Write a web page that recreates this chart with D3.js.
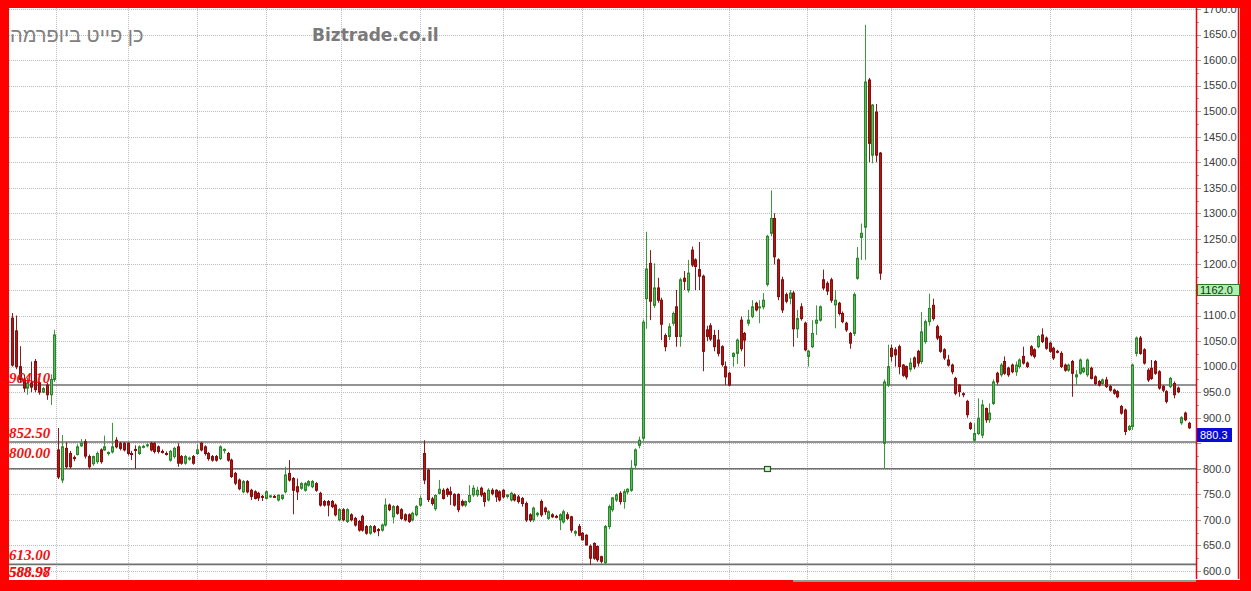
<!DOCTYPE html>
<html><head><meta charset="utf-8">
<script src="https://cdn.jsdelivr.net/npm/d3@7"></script>
<style>html,body{margin:0;padding:0;background:#fff;overflow:hidden}</style>
</head><body><svg id="c" width="1251" height="591"></svg>
<script>
// ---- data (daily OHLC) ----
const open = [1095,1070,1000,975,958,968,1010,968,950,964,945,975,
837,778,840,830,822,828,845,853,824,810,
814,837,837,830,833,856,850,850,850,830,
838,830,843,846,850,850,843,834,830,817,
824,843,824,811,820,824,830,850,843,830,
824,824,820,837,830,817,791,778,755,775,
758,755,752,746,742,746,746,739,742,755,
791,781,765,762,758,768,765,771,752,736,
736,736,729,700,720,697,710,703,697,707,
687,674,687,681,680,690,729,706,726,720,
710,710,700,710,729,830,797,741,722,752,
758,760,755,750,750,736,729,736,749,749,
762,752,739,758,758,755,758,746,739,749,
745,742,732,710,700,710,736,723,703,710,
707,700,696,710,706,674,687,674,670,648,
654,648,628,616,687,720,739,752,736,755,
758,807,846,
860,1133,1202,1120,1154,1130,1061,1059,1085,1117,
1059,1173,1150,1228,1209,1190,1177,1072,1080,1061,
1052,1039,1000,987,1020,1026,1091,1065,1085,1098,
1124,1115,1117,1161,1261,1290,1209,1170,1141,1134,
1144,1074,1117,1085,1020,1039,1085,1091,1170,1163,
1170,1121,1124,1104,1085,1065,1065,1173,1253,1273,
1561,1414,1498,1418,850,964,1036,1033,1039,1003,
1000,995,1017,1030,1010,1049,1088,1120,1078,1059,
1033,1013,1003,977,964,947,932,889,856,869,
866,918,896,928,987,984,1010,997,1003,990,
1000,1020,1007,1039,1033,1039,1062,1056,1046,1036,
1030,1026,1003,993,1010,980,987,990,984,997,
980,971,967,974,961,954,951,922,915,877,
883,1026,1056,1033,993,997,1010,990,961,951,
961,967,958,890,909,889];
const high = [1105,1100,1040,985,978,1010,1015,972,960,968,985,1072,
880,866,852,835,826,848,858,858,828,826,
834,840,865,834,890,862,853,852,852,835,
846,846,847,850,853,852,846,838,834,837,
843,850,827,827,824,827,848,853,846,833,
827,827,846,840,833,820,794,781,778,778,
761,758,755,749,758,749,749,750,750,804,
817,784,781,774,774,778,778,774,755,739,
739,739,732,723,723,723,713,706,700,710,
690,690,690,684,693,742,732,729,729,723,
713,713,716,729,748,856,800,745,750,778,
762,763,765,752,752,740,738,768,768,765,
765,755,762,762,760,758,760,750,755,752,
749,745,736,713,726,716,740,726,719,713,
710,713,720,715,708,680,692,676,672,652,
656,650,630,690,730,745,752,756,760,762,
817,840,863,
1092,1264,1228,1202,1174,1135,1065,1085,1108,1150,
1174,1187,1209,1235,1212,1244,1180,1080,1085,1072,
1072,1042,1010,990,1028,1055,1098,1068,1111,1130,
1127,1130,1144,1258,1345,1300,1212,1176,1145,1150,
1148,1111,1124,1088,1033,1091,1120,1120,1190,1167,
1174,1150,1127,1108,1088,1068,1145,1234,1280,1669,
1565,1514,1514,1420,975,1043,1043,1038,1043,1005,
1002,1017,1020,1033,1107,1092,1143,1133,1082,1062,
1036,1023,1006,980,966,950,935,892,889,938,
935,920,928,975,990,1007,1020,1000,1006,1010,
1016,1039,1010,1042,1036,1062,1075,1059,1049,1039,
1033,1030,1006,1006,1013,993,1016,1000,1016,1000,
983,974,977,980,964,957,954,925,918,886,
1006,1059,1060,1036,997,1013,1013,993,964,954,
980,971,961,903,912,892];
const low = [1000,995,968,950,945,950,950,945,948,935,925,970,
780,772,800,800,815,826,843,820,800,806,
810,810,835,826,830,840,836,834,826,817,
800,827,840,842,834,830,830,830,826,814,
820,804,808,808,816,808,827,834,826,816,
814,814,817,830,814,782,768,758,752,752,
739,740,737,737,740,743,743,736,739,752,
775,711,739,759,755,765,762,755,726,726,
707,723,707,697,697,694,697,687,677,677,
671,671,674,668,677,687,717,693,710,700,
697,694,697,707,726,770,735,728,718,750,
740,745,729,726,715,726,725,733,745,745,
745,726,736,748,735,736,742,742,736,736,
732,726,696,696,696,706,706,710,700,704,
703,680,693,700,675,668,668,660,650,612,
622,618,615,613,682,716,735,730,722,750,
755,800,840,
855,1074,1091,1115,1125,1052,1030,1052,1080,1039,
1039,1150,1145,1195,1150,1150,991,1050,1050,1030,
1020,1000,964,962,1000,1005,1030,1000,1080,1095,
1108,1085,1112,1157,1255,1200,1130,1105,1124,1122,
1039,1056,1090,1030,1000,1036,1062,1088,1150,1140,
1125,1075,1100,1085,1068,1035,1060,1170,1209,1209,
1400,1398,1400,1170,800,960,1010,1000,985,980,
975,990,995,1000,1005,1045,1080,1090,1052,1027,
1013,1000,985,944,941,940,900,876,852,866,
860,890,890,925,965,980,984,980,987,982,
996,1004,997,1020,1016,1036,1046,1033,1027,1013,
1026,997,990,990,941,964,984,987,980,975,
964,961,964,958,951,945,938,906,866,874,
876,1020,1023,1004,970,974,984,955,950,928,
958,938,948,886,893,878];
const close = [1003,1000,975,958,968,960,955,950,957,945,975,1062,
784,843,804,804,820,843,850,825,804,824,
830,814,843,832,843,843,840,837,830,828,
836,843,844,847,837,834,834,833,829,834,
840,811,811,824,821,811,837,837,830,820,
817,817,843,838,817,785,772,761,775,755,
746,742,743,745,755,747,745,748,748,788,
778,758,755,771,771,775,775,758,729,729,
729,726,710,720,700,720,700,690,680,680,
674,687,677,679,690,729,720,726,713,703,
700,697,713,726,742,778,740,732,748,760,
742,750,750,729,720,729,736,748,762,758,
749,736,758,752,745,739,745,749,752,739,
736,732,700,700,723,713,710,716,716,706,
706,710,716,703,680,677,670,661,651,625,
625,622,619,687,726,743,749,736,755,760,
801,837,856,
1087,1191,1128,1154,1130,1083,1039,1078,1104,1059,
1170,1167,1183,1199,1196,1177,1030,1059,1054,1039,
1026,1004,980,964,1026,1052,1035,1052,1091,1117,
1111,1117,1130,1255,1290,1215,1137,1111,1128,1144,
1074,1094,1094,1033,1030,1065,1091,1117,1154,1148,
1130,1130,1104,1088,1072,1046,1141,1212,1261,1557,
1437,1512,1414,1183,970,1000,1020,1023,1000,983,
980,1007,1000,1007,1068,1088,1114,1094,1056,1030,
1017,1003,990,948,951,945,906,879,869,899,
925,896,909,970,970,1003,987,984,990,1003,
1013,1007,1000,1023,1020,1059,1049,1036,1030,1017,
1029,1000,993,1003,987,984,1013,997,1013,977,
967,964,974,961,954,948,941,909,873,883,
1003,1056,1026,1007,974,977,987,958,954,932,
977,945,951,900,896,880.3];

const yTickValues = d3.range(600, 1701, 50);
const yMinorValues = d3.range(625, 1700, 50);
const monthBreaks = [11.5, 30, 48, 66, 85.5, 106, 128, 149, 165, 188, 208.5, 231, 253, 273, 294.5];
const levelValues = [964.1, 852.5, 800, 613];
const levelLabelValues = [964.1, 852.5, 800, 613, 588.98, 588.97];
const levelLabelTexts = ["964.10", "852.50", "800.00", "613.00", "588.98", "588.97"];
const levelLabelDy = [-2, -4, -11, -4, 0, 0];
const markerPoints = [{i: 198, v: 800}];
const lastValue = 880.3;
const indicatorValue = 1162.0;
const titleText = "כן פייט ביופרמה";
const brandText = "Biztrade.co.il";

// ---- drawing ----
const svg = d3.select('#c');
const L = 9, R = 1196, T = 8, B = 579;
const x = d3.scaleLinear().domain([0, 107, open.length - 1]).range([12, 424, 1189]);
const y = d3.scaleLinear().domain([600, 1700]).range([571, 9]);
const px = v => Math.round(v) + 0.5;

svg.append('rect').attr('width', 1251).attr('height', 591).attr('fill', '#fff');

const defs = svg.append('defs');
defs.append('clipPath').attr('id', 'plotClip').append('rect')
  .attr('x', L).attr('y', T).attr('width', R - L).attr('height', B - T);

const plot = svg.append('g').attr('clip-path', 'url(#plotClip)');

// grid
plot.append('g').selectAll('line').data(yTickValues).join('line')
  .attr('x1', L).attr('x2', R).attr('y1', d => px(y(d))).attr('y2', d => px(y(d)))
  .attr('stroke', '#bdbdbd').attr('stroke-width', 1).attr('stroke-dasharray', '1,1');
plot.append('g').selectAll('line').data(monthBreaks).join('line')
  .attr('x1', d => px(x(d))).attr('x2', d => px(x(d))).attr('y1', T).attr('y2', B)
  .attr('stroke', '#bdbdbd').attr('stroke-width', 1).attr('stroke-dasharray', '1,1');

// level lines
plot.append('g').selectAll('line').data(levelValues).join('line')
  .attr('x1', L).attr('x2', R).attr('y1', d => y(d)).attr('y2', d => y(d))
  .attr('stroke', '#6f6f6f').attr('stroke-width', 1.6);

// candles
const data = open.map((o, i) => ({i, o, h: high[i], l: low[i], c: close[i]}));
const up = d => d.c >= d.o;
const cg = plot.append('g');
cg.selectAll('line').data(data).join('line')
  .attr('x1', d => px(x(d.i))).attr('x2', d => px(x(d.i)))
  .attr('y1', d => y(d.h)).attr('y2', d => y(d.l))
  .attr('stroke', d => up(d) ? '#3c9a3c' : '#8e1b1b').attr('stroke-width', 1);
cg.selectAll('rect').data(data).join('rect')
  .attr('x', d => px(x(d.i)) - 1).attr('width', 2)
  .attr('y', d => y(Math.max(d.o, d.c)))
  .attr('height', d => Math.max(1, Math.abs(y(d.o) - y(d.c))))
  .attr('fill', d => up(d) ? '#5dbb5d' : '#b01818')
  .attr('stroke', d => up(d) ? '#2a862a' : '#8a0c0c').attr('stroke-width', 1);

// marker
plot.append('g').selectAll('rect').data(markerPoints).join('rect')
  .attr('x', d => px(x(d.i)) - 3).attr('y', d => Math.round(y(d.v)) - 2.5)
  .attr('width', 6).attr('height', 5)
  .attr('fill', '#d6f2d6').attr('stroke', '#1f5f1f').attr('stroke-width', 1.2);

// left level labels
svg.append('g').selectAll('text').data(levelLabelValues).join('text')
  .attr('x', 9).attr('y', (d, k) => y(d) + levelLabelDy[k])
  .text((d, k) => levelLabelTexts[k])
  .attr('font-family', 'Liberation Serif, serif').attr('font-style', 'italic').attr('font-weight', 'bold')
  .attr('font-size', 15).attr('fill', '#ee1111');

// titles
svg.append('text').attr('x', 10).attr('y', 42).text(titleText)
  .attr('font-family', 'Liberation Sans, Arial, sans-serif').attr('font-size', 20).attr('fill', '#808080');
svg.append('text').attr('x', 312).attr('y', 41).text(brandText)
  .attr('font-family', 'DejaVu Sans, Verdana, sans-serif').attr('font-weight', 'bold')
  .attr('font-size', 17).attr('fill', '#7a7a7a');

// right axis
const gy = Math.round(y(indicatorValue));
const by = Math.round(y(lastValue));
const covered = d => (y(d) > gy - 4 && y(d) < gy + 16) || (y(d) > by - 4 && y(d) < by + 18);
const ax = svg.append('g');
ax.append('rect').attr('x', R + 1).attr('y', T).attr('width', 1240 - R - 1).attr('height', B - T).attr('fill', '#fff');
ax.selectAll('line.maj').data(yTickValues).join('line').attr('class', 'maj')
  .attr('x1', R).attr('x2', R + 5).attr('y1', d => px(y(d))).attr('y2', d => px(y(d)))
  .attr('stroke', '#9a9a9a');
ax.selectAll('line.min').data(yMinorValues).join('line').attr('class', 'min')
  .attr('x1', R).attr('x2', R + 3).attr('y1', d => px(y(d))).attr('y2', d => px(y(d)))
  .attr('stroke', '#9a9a9a');
ax.selectAll('text').data(yTickValues.filter(d => !covered(d))).join('text')
  .attr('x', R + 7).attr('y', d => y(d)).attr('dy', '0.35em')
  .text(d => d3.format('.1f')(d))
  .attr('font-family', 'Liberation Sans, Arial, sans-serif').attr('font-size', 11).attr('fill', '#3a3a3a');
ax.append('line').attr('x1', R + 0.5).attr('x2', R + 0.5).attr('y1', T).attr('y2', B)
  .attr('stroke', '#ff0000').attr('stroke-width', 1.5);
ax.append('line').attr('x1', 1238.5).attr('x2', 1238.5).attr('y1', T).attr('y2', B)
  .attr('stroke', '#ff0000').attr('stroke-width', 1.5);

// value boxes
ax.append('rect').attr('x', R + 1.5).attr('y', gy + 0.5).attr('width', 42).attr('height', 11)
  .attr('fill', '#aef0ae').attr('stroke', '#2a7a2a');
ax.append('text').attr('x', R + 4).attr('y', gy + 10).text(d3.format('.1f')(indicatorValue))
  .attr('font-family', 'Liberation Sans, Arial, sans-serif').attr('font-size', 11).attr('fill', '#143014');
ax.append('rect').attr('x', R + 1).attr('y', by).attr('width', 35).attr('height', 14)
  .attr('fill', '#0b0bd6');
ax.append('text').attr('x', R + 4).attr('y', by + 11).text(d3.format('.1f')(lastValue))
  .attr('font-family', 'Liberation Sans, Arial, sans-serif').attr('font-size', 11).attr('fill', '#ffffff');

// red frame
const fr = svg.append('g').attr('fill', '#ff0000');
fr.append('rect').attr('x', 0).attr('y', 0).attr('width', 1251).attr('height', T);
fr.append('rect').attr('x', 0).attr('y', 0).attr('width', L).attr('height', 591);
fr.append('rect').attr('x', 1240).attr('y', 0).attr('width', 11).attr('height', 591);
fr.append('rect').attr('x', 0).attr('y', B + 1).attr('width', 1251).attr('height', 591 - B - 1);
svg.append('rect').attr('x', 793).attr('y', B + 1).attr('width', R - 793).attr('height', 2).attr('fill', '#8e9e8e');
</script>
</body></html>
